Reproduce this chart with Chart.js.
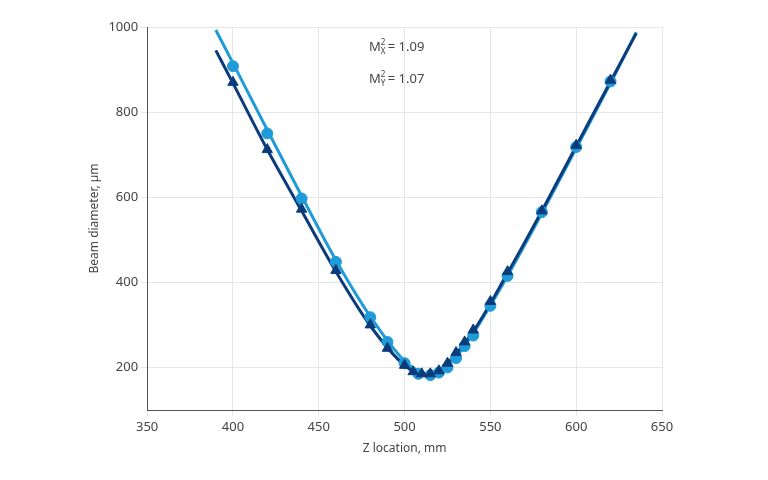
<!DOCTYPE html>
<html lang="en">
<head>
  <meta charset="UTF-8">
  <title>Beam diameter</title>
  <script src="https://cdn.jsdelivr.net/npm/chart.js"></script>
  <style>
    body { margin: 0; background: #fff; }
    #wrap { width: 768px; height: 480px; }
  </style>
</head>
<body>
  <div id="wrap"><canvas id="grafico"></canvas></div>
  <script>
    // measured points
    const zX = [400, 420, 440, 460, 480, 490, 500, 508, 515, 520, 525, 530, 535, 540, 550, 560, 580, 600, 620];
    const dX = [908, 750, 597, 448, 318, 260, 210, 185, 182, 188, 200, 222, 250, 275, 345, 415, 565, 718, 872];
    const zY = [400, 420, 440, 460, 480, 490, 500, 505, 510, 515, 520, 525, 530, 535, 540, 550, 560, 580, 600, 620];
    const dY = [870, 712, 572, 428, 300, 245, 205, 190, 185, 185, 192, 210, 235, 260, 288, 355, 425, 568, 722, 875];
    // fitted curves
    const fitZX = [390, 400, 420, 440, 460, 480, 500, 510, 515, 520, 530, 540, 560, 580, 600, 620, 635];
    const fitDX = [993, 915, 758, 603, 452, 320, 215, 188, 184, 190, 225, 280, 415, 562, 715, 868, 988];
    const fitZY = [390, 400, 420, 440, 460, 480, 500, 510, 515, 520, 540, 560, 580, 600, 620, 635];
    const fitDY = [945, 868, 712, 568, 425, 298, 205, 184, 183, 192, 285, 422, 568, 720, 872, 985];
    const yTicks = [200, 400, 600, 800, 1000];

    const light = '#1f9bd7';
    const dark = '#0c3b7c';
    const pts = (xs, ys) => xs.map((x, i) => ({ x: x, y: ys[i] }));

    const labelPlugin = {
      id: 'm2labels',
      afterDraw(chart) {
        const c = chart.ctx;
        const draw = (y, sub, val) => {
          const x = 369;
          c.save();
          c.fillStyle = '#444';
          c.font = '13px "Noto Sans"';
          c.textBaseline = 'alphabetic';
          c.fillText('M', x, y);
          const w = c.measureText('M').width;
          c.font = '8px "Noto Sans"';
          c.fillText('2', x + w, y - 6);
          c.fillText(sub, x + w, y + 3);
          c.font = '13px "Noto Sans"';
          c.fillText('= ' + val, x + w + 7, y);
          c.restore();
        };
        draw(51, 'X', '1.09');
        draw(83, 'Y', '1.07');
      }
    };

    new Chart(document.getElementById('grafico'), {
      type: 'scatter',
      data: {
        datasets: [
          { data: pts(zX, dX), backgroundColor: light, borderColor: light, pointStyle: 'circle', pointRadius: 5.5, showLine: false, order: 2 },
          { data: pts(zY, dY), backgroundColor: dark, borderColor: dark, pointStyle: 'triangle', pointRadius: 6, showLine: false, order: 1 },
          { data: pts(fitZX, fitDX), borderColor: light, borderWidth: 3, pointRadius: 0, showLine: true, tension: 0.4, cubicInterpolationMode: 'monotone', order: 4 },
          { data: pts(fitZY, fitDY), borderColor: dark, borderWidth: 3, pointRadius: 0, showLine: true, tension: 0.4, cubicInterpolationMode: 'monotone', order: 3 }
        ]
      },
      options: {
        responsive: true,
        maintainAspectRatio: false,
        animation: false,
        layout: { padding: { left: 83, right: 106, top: 27, bottom: 20 } },
        plugins: { legend: { display: false }, tooltip: { enabled: false } },
        scales: {
          x: {
            min: 350, max: 650,
            ticks: { stepSize: 50, color: '#444', font: { family: 'Noto Sans', size: 13 } },
            grid: { color: '#e6e6e6', tickLength: 6 },
            border: { color: '#555' },
            title: { display: true, text: 'Z location, mm', color: '#444', font: { family: 'Noto Sans', size: 12 } }
          },
          y: {
            min: 100, max: 1000,
            afterBuildTicks(axis) { axis.ticks = yTicks.map(v => ({ value: v })); },
            ticks: { color: '#444', font: { family: 'Noto Sans', size: 13 }, callback: v => String(v) },
            grid: { color: '#e6e6e6', tickLength: 6 },
            border: { color: '#555' },
            title: { display: true, text: 'Beam diameter, µm', color: '#444', font: { family: 'Noto Sans', size: 12 } }
          }
        }
      },
      plugins: [labelPlugin]
    });
  </script>
</body>
</html>
